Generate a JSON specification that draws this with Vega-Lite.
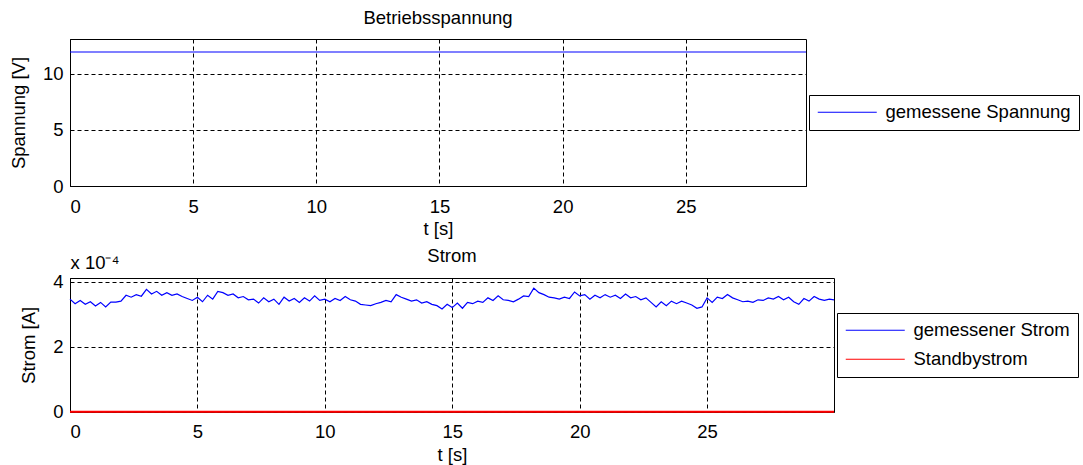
{
  "$schema": "https://vega.github.io/schema/vega-lite/v6.json",
  "padding": {"left": 8, "top": 8, "right": 0, "bottom": 0},
  "background": "white",
  "bounds": "flush",
  "spacing": 92,
  "resolve": {"scale": {"color": "independent"}, "legend": {"color": "independent"}},
  "config": {
    "font": "Liberation Sans",
    "view": {"stroke": "black", "strokeWidth": 1},
    "title": {"fontSize": 18.5, "fontWeight": "normal", "color": "black", "offset": 12},
    "axis": {
      "domainColor": "black", "domainWidth": 1,
      "labelColor": "black", "titleColor": "black",
      "labelFontSize": 18.5, "titleFontSize": 18.5, "titleFontWeight": "normal",
      "gridColor": "black", "gridDash": [4, 3], "gridOpacity": 1, "gridWidth": 1,
      "ticks": false, "labelPadding": 7, "labelOverlap": false
    },
    "axisX": {"titlePadding": 4, "labelPadding": 11},
    "axisY": {"titlePadding": 14},
    "legend": {
      "strokeColor": "black", "fillColor": "white", "padding": 8,
      "symbolType": "M-3.933,0H3.933", "symbolSize": 225, "symbolStrokeWidth": 1.2,
      "symbolFillColor": "transparent",
      "symbolOffset": 21, "labelFontSize": 18.5, "labelColor": "black",
      "labelOffset": 29, "labelLimit": 500, "rowPadding": 10
    }
  },
  "vconcat": [
    {
      "width": 736,
      "height": 147,
      "title": {"text": "Betriebsspannung"},
      "data": {"values": [
        {"t": 0, "spannung": 11.96, "serie": "gemessene Spannung"},
        {"t": 5, "spannung": 11.96, "serie": "gemessene Spannung"},
        {"t": 10, "spannung": 11.96, "serie": "gemessene Spannung"},
        {"t": 15, "spannung": 11.96, "serie": "gemessene Spannung"},
        {"t": 20, "spannung": 11.96, "serie": "gemessene Spannung"},
        {"t": 25, "spannung": 11.96, "serie": "gemessene Spannung"},
        {"t": 29.88, "spannung": 11.96, "serie": "gemessene Spannung"}
      ]},
      "mark": {"type": "line", "strokeWidth": 1.2, "clip": false},
      "encoding": {
        "x": {"field": "t", "type": "quantitative", "scale": {"domain": [0, 29.88], "nice": false, "zero": false},
              "axis": {"values": [0, 5, 10, 15, 20, 25], "title": "t [s]"}},
        "y": {"field": "spannung", "type": "quantitative", "scale": {"domain": [0, 13.12], "nice": false},
              "axis": {"values": [0, 5, 10], "title": "Spannung [V]"}},
        "color": {"field": "serie", "type": "nominal",
                  "scale": {"domain": ["gemessene Spannung"], "range": ["#0000ff"]},
                  "legend": {"orient": "none", "legendX": 739, "legendY": 56, "title": null}}
      }
    },
    {
      "width": 764,
      "height": 133.7,
      "title": {"text": "Strom", "frame": "group", "offset": -12.5},
      "data": {"values": [
        {"t": 0.0, "strom": 3.46e-4, "serie": "gemessener Strom"},
        {"t": 0.2, "strom": 3.32e-4, "serie": "gemessener Strom"},
        {"t": 0.4, "strom": 3.42e-4, "serie": "gemessener Strom"},
        {"t": 0.6, "strom": 3.30e-4, "serie": "gemessener Strom"},
        {"t": 0.8, "strom": 3.38e-4, "serie": "gemessener Strom"},
        {"t": 1.0, "strom": 3.25e-4, "serie": "gemessener Strom"},
        {"t": 1.2, "strom": 3.36e-4, "serie": "gemessener Strom"},
        {"t": 1.4, "strom": 3.22e-4, "serie": "gemessener Strom"},
        {"t": 1.6, "strom": 3.37e-4, "serie": "gemessener Strom"},
        {"t": 1.8, "strom": 3.37e-4, "serie": "gemessener Strom"},
        {"t": 2.0, "strom": 3.40e-4, "serie": "gemessener Strom"},
        {"t": 2.2, "strom": 3.58e-4, "serie": "gemessener Strom"},
        {"t": 2.4, "strom": 3.52e-4, "serie": "gemessener Strom"},
        {"t": 2.6, "strom": 3.60e-4, "serie": "gemessener Strom"},
        {"t": 2.8, "strom": 3.55e-4, "serie": "gemessener Strom"},
        {"t": 3.0, "strom": 3.76e-4, "serie": "gemessener Strom"},
        {"t": 3.2, "strom": 3.62e-4, "serie": "gemessener Strom"},
        {"t": 3.4, "strom": 3.70e-4, "serie": "gemessener Strom"},
        {"t": 3.6, "strom": 3.58e-4, "serie": "gemessener Strom"},
        {"t": 3.8, "strom": 3.66e-4, "serie": "gemessener Strom"},
        {"t": 4.0, "strom": 3.58e-4, "serie": "gemessener Strom"},
        {"t": 4.2, "strom": 3.62e-4, "serie": "gemessener Strom"},
        {"t": 4.4, "strom": 3.54e-4, "serie": "gemessener Strom"},
        {"t": 4.6, "strom": 3.48e-4, "serie": "gemessener Strom"},
        {"t": 4.8, "strom": 3.42e-4, "serie": "gemessener Strom"},
        {"t": 5.0, "strom": 3.52e-4, "serie": "gemessener Strom"},
        {"t": 5.2, "strom": 3.38e-4, "serie": "gemessener Strom"},
        {"t": 5.4, "strom": 3.58e-4, "serie": "gemessener Strom"},
        {"t": 5.6, "strom": 3.46e-4, "serie": "gemessener Strom"},
        {"t": 5.8, "strom": 3.70e-4, "serie": "gemessener Strom"},
        {"t": 6.0, "strom": 3.66e-4, "serie": "gemessener Strom"},
        {"t": 6.2, "strom": 3.58e-4, "serie": "gemessener Strom"},
        {"t": 6.4, "strom": 3.62e-4, "serie": "gemessener Strom"},
        {"t": 6.6, "strom": 3.50e-4, "serie": "gemessener Strom"},
        {"t": 6.8, "strom": 3.54e-4, "serie": "gemessener Strom"},
        {"t": 7.0, "strom": 3.44e-4, "serie": "gemessener Strom"},
        {"t": 7.2, "strom": 3.46e-4, "serie": "gemessener Strom"},
        {"t": 7.4, "strom": 3.34e-4, "serie": "gemessener Strom"},
        {"t": 7.6, "strom": 3.50e-4, "serie": "gemessener Strom"},
        {"t": 7.8, "strom": 3.38e-4, "serie": "gemessener Strom"},
        {"t": 8.0, "strom": 3.46e-4, "serie": "gemessener Strom"},
        {"t": 8.2, "strom": 3.30e-4, "serie": "gemessener Strom"},
        {"t": 8.4, "strom": 3.52e-4, "serie": "gemessener Strom"},
        {"t": 8.6, "strom": 3.40e-4, "serie": "gemessener Strom"},
        {"t": 8.8, "strom": 3.48e-4, "serie": "gemessener Strom"},
        {"t": 9.0, "strom": 3.36e-4, "serie": "gemessener Strom"},
        {"t": 9.2, "strom": 3.50e-4, "serie": "gemessener Strom"},
        {"t": 9.4, "strom": 3.40e-4, "serie": "gemessener Strom"},
        {"t": 9.6, "strom": 3.56e-4, "serie": "gemessener Strom"},
        {"t": 9.8, "strom": 3.42e-4, "serie": "gemessener Strom"},
        {"t": 10.0, "strom": 3.46e-4, "serie": "gemessener Strom"},
        {"t": 10.2, "strom": 3.38e-4, "serie": "gemessener Strom"},
        {"t": 10.4, "strom": 3.48e-4, "serie": "gemessener Strom"},
        {"t": 10.6, "strom": 3.42e-4, "serie": "gemessener Strom"},
        {"t": 10.8, "strom": 3.54e-4, "serie": "gemessener Strom"},
        {"t": 11.0, "strom": 3.44e-4, "serie": "gemessener Strom"},
        {"t": 11.2, "strom": 3.40e-4, "serie": "gemessener Strom"},
        {"t": 11.4, "strom": 3.30e-4, "serie": "gemessener Strom"},
        {"t": 11.6, "strom": 3.28e-4, "serie": "gemessener Strom"},
        {"t": 11.8, "strom": 3.26e-4, "serie": "gemessener Strom"},
        {"t": 12.0, "strom": 3.32e-4, "serie": "gemessener Strom"},
        {"t": 12.2, "strom": 3.36e-4, "serie": "gemessener Strom"},
        {"t": 12.4, "strom": 3.42e-4, "serie": "gemessener Strom"},
        {"t": 12.6, "strom": 3.38e-4, "serie": "gemessener Strom"},
        {"t": 12.8, "strom": 3.60e-4, "serie": "gemessener Strom"},
        {"t": 13.0, "strom": 3.52e-4, "serie": "gemessener Strom"},
        {"t": 13.2, "strom": 3.46e-4, "serie": "gemessener Strom"},
        {"t": 13.4, "strom": 3.40e-4, "serie": "gemessener Strom"},
        {"t": 13.6, "strom": 3.44e-4, "serie": "gemessener Strom"},
        {"t": 13.8, "strom": 3.34e-4, "serie": "gemessener Strom"},
        {"t": 14.0, "strom": 3.38e-4, "serie": "gemessener Strom"},
        {"t": 14.2, "strom": 3.30e-4, "serie": "gemessener Strom"},
        {"t": 14.4, "strom": 3.26e-4, "serie": "gemessener Strom"},
        {"t": 14.6, "strom": 3.16e-4, "serie": "gemessener Strom"},
        {"t": 14.8, "strom": 3.30e-4, "serie": "gemessener Strom"},
        {"t": 15.0, "strom": 3.20e-4, "serie": "gemessener Strom"},
        {"t": 15.2, "strom": 3.34e-4, "serie": "gemessener Strom"},
        {"t": 15.4, "strom": 3.18e-4, "serie": "gemessener Strom"},
        {"t": 15.6, "strom": 3.36e-4, "serie": "gemessener Strom"},
        {"t": 15.8, "strom": 3.32e-4, "serie": "gemessener Strom"},
        {"t": 16.0, "strom": 3.40e-4, "serie": "gemessener Strom"},
        {"t": 16.2, "strom": 3.36e-4, "serie": "gemessener Strom"},
        {"t": 16.4, "strom": 3.50e-4, "serie": "gemessener Strom"},
        {"t": 16.6, "strom": 3.42e-4, "serie": "gemessener Strom"},
        {"t": 16.8, "strom": 3.56e-4, "serie": "gemessener Strom"},
        {"t": 17.0, "strom": 3.44e-4, "serie": "gemessener Strom"},
        {"t": 17.2, "strom": 3.42e-4, "serie": "gemessener Strom"},
        {"t": 17.4, "strom": 3.38e-4, "serie": "gemessener Strom"},
        {"t": 17.6, "strom": 3.46e-4, "serie": "gemessener Strom"},
        {"t": 17.8, "strom": 3.56e-4, "serie": "gemessener Strom"},
        {"t": 18.0, "strom": 3.54e-4, "serie": "gemessener Strom"},
        {"t": 18.2, "strom": 3.80e-4, "serie": "gemessener Strom"},
        {"t": 18.4, "strom": 3.66e-4, "serie": "gemessener Strom"},
        {"t": 18.6, "strom": 3.60e-4, "serie": "gemessener Strom"},
        {"t": 18.8, "strom": 3.52e-4, "serie": "gemessener Strom"},
        {"t": 19.0, "strom": 3.50e-4, "serie": "gemessener Strom"},
        {"t": 19.2, "strom": 3.46e-4, "serie": "gemessener Strom"},
        {"t": 19.4, "strom": 3.52e-4, "serie": "gemessener Strom"},
        {"t": 19.6, "strom": 3.48e-4, "serie": "gemessener Strom"},
        {"t": 19.8, "strom": 3.68e-4, "serie": "gemessener Strom"},
        {"t": 20.0, "strom": 3.56e-4, "serie": "gemessener Strom"},
        {"t": 20.2, "strom": 3.60e-4, "serie": "gemessener Strom"},
        {"t": 20.4, "strom": 3.46e-4, "serie": "gemessener Strom"},
        {"t": 20.6, "strom": 3.58e-4, "serie": "gemessener Strom"},
        {"t": 20.8, "strom": 3.50e-4, "serie": "gemessener Strom"},
        {"t": 21.0, "strom": 3.60e-4, "serie": "gemessener Strom"},
        {"t": 21.2, "strom": 3.52e-4, "serie": "gemessener Strom"},
        {"t": 21.4, "strom": 3.58e-4, "serie": "gemessener Strom"},
        {"t": 21.6, "strom": 3.48e-4, "serie": "gemessener Strom"},
        {"t": 21.8, "strom": 3.62e-4, "serie": "gemessener Strom"},
        {"t": 22.0, "strom": 3.50e-4, "serie": "gemessener Strom"},
        {"t": 22.2, "strom": 3.54e-4, "serie": "gemessener Strom"},
        {"t": 22.4, "strom": 3.44e-4, "serie": "gemessener Strom"},
        {"t": 22.6, "strom": 3.50e-4, "serie": "gemessener Strom"},
        {"t": 22.8, "strom": 3.36e-4, "serie": "gemessener Strom"},
        {"t": 23.0, "strom": 3.22e-4, "serie": "gemessener Strom"},
        {"t": 23.2, "strom": 3.38e-4, "serie": "gemessener Strom"},
        {"t": 23.4, "strom": 3.26e-4, "serie": "gemessener Strom"},
        {"t": 23.6, "strom": 3.40e-4, "serie": "gemessener Strom"},
        {"t": 23.8, "strom": 3.32e-4, "serie": "gemessener Strom"},
        {"t": 24.0, "strom": 3.40e-4, "serie": "gemessener Strom"},
        {"t": 24.2, "strom": 3.34e-4, "serie": "gemessener Strom"},
        {"t": 24.4, "strom": 3.28e-4, "serie": "gemessener Strom"},
        {"t": 24.6, "strom": 3.18e-4, "serie": "gemessener Strom"},
        {"t": 24.8, "strom": 3.22e-4, "serie": "gemessener Strom"},
        {"t": 25.0, "strom": 3.50e-4, "serie": "gemessener Strom"},
        {"t": 25.2, "strom": 3.36e-4, "serie": "gemessener Strom"},
        {"t": 25.4, "strom": 3.52e-4, "serie": "gemessener Strom"},
        {"t": 25.6, "strom": 3.48e-4, "serie": "gemessener Strom"},
        {"t": 25.8, "strom": 3.60e-4, "serie": "gemessener Strom"},
        {"t": 26.0, "strom": 3.50e-4, "serie": "gemessener Strom"},
        {"t": 26.2, "strom": 3.44e-4, "serie": "gemessener Strom"},
        {"t": 26.4, "strom": 3.38e-4, "serie": "gemessener Strom"},
        {"t": 26.6, "strom": 3.40e-4, "serie": "gemessener Strom"},
        {"t": 26.8, "strom": 3.36e-4, "serie": "gemessener Strom"},
        {"t": 27.0, "strom": 3.44e-4, "serie": "gemessener Strom"},
        {"t": 27.2, "strom": 3.42e-4, "serie": "gemessener Strom"},
        {"t": 27.4, "strom": 3.50e-4, "serie": "gemessener Strom"},
        {"t": 27.6, "strom": 3.46e-4, "serie": "gemessener Strom"},
        {"t": 27.8, "strom": 3.54e-4, "serie": "gemessener Strom"},
        {"t": 28.0, "strom": 3.44e-4, "serie": "gemessener Strom"},
        {"t": 28.2, "strom": 3.52e-4, "serie": "gemessener Strom"},
        {"t": 28.4, "strom": 3.38e-4, "serie": "gemessener Strom"},
        {"t": 28.6, "strom": 3.30e-4, "serie": "gemessener Strom"},
        {"t": 28.8, "strom": 3.48e-4, "serie": "gemessener Strom"},
        {"t": 29.0, "strom": 3.40e-4, "serie": "gemessener Strom"},
        {"t": 29.2, "strom": 3.54e-4, "serie": "gemessener Strom"},
        {"t": 29.4, "strom": 3.46e-4, "serie": "gemessener Strom"},
        {"t": 29.6, "strom": 3.42e-4, "serie": "gemessener Strom"},
        {"t": 29.8, "strom": 3.46e-4, "serie": "gemessener Strom"},
        {"t": 29.98, "strom": 3.44e-4, "serie": "gemessener Strom"},
        {"t": 0, "strom": 0, "serie": "Standbystrom"},
        {"t": 29.98, "strom": 0, "serie": "Standbystrom"}
      ]},
      "encoding": {
        "y": {"field": "strom", "type": "quantitative", "scale": {"domain": [0, 0.000411], "nice": false},
              "axis": {"values": [0, 0.0002, 0.0004], "title": "Strom [A]",
                       "labelExpr": "format(datum.value * 10000, '.0f')"}},
        "color": {"field": "serie", "type": "nominal",
                  "scale": {"domain": ["gemessener Strom", "Standbystrom"], "range": ["#0000ff", "#ff0000"]},
                  "legend": {"orient": "none", "legendX": 767, "legendY": 35, "title": null}}
      },
      "layer": [
        {
          "mark": {"type": "line", "strokeWidth": 1.2, "clip": false},
          "encoding": {
            "x": {"field": "t", "type": "quantitative", "scale": {"domain": [0, 29.98], "nice": false, "zero": false},
                  "axis": {"values": [0, 5, 10, 15, 20, 25], "title": "t [s]"}}
          }
        },
        {
          "transform": [{"filter": "datum.serie === 'Standbystrom'"}],
          "mark": {"type": "line", "strokeWidth": 2, "clip": false},
          "encoding": {
            "x": {"field": "t", "type": "quantitative",
                  "axis": {"orient": "top", "labels": false, "ticks": false, "domain": false, "grid": false,
                           "title": "x 10⁻⁴", "titleAnchor": "start", "titleAlign": "left", "titlePadding": 6}}
          }
        }
      ],
      "resolve": {"axis": {"x": "independent"}}
    }
  ]
}
